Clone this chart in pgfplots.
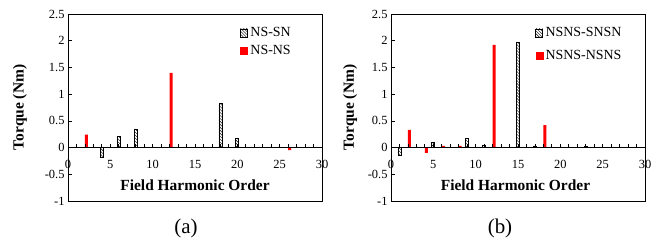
\documentclass[border=0pt]{standalone}
\usepackage{pgfplots}
\pgfplotsset{compat=1.18}
\usepackage{fontspec}
\setmainfont{Liberation Serif}
\usetikzlibrary{patterns}

\pgfplotsset{
  base/.style={scale only axis, width=254bp, height=187bp,
    xmin=0, xmax=30, ymin=-1, ymax=2.5, anchor=south west,
    /pgf/number format/assume math mode=true},
  frame/.style={base, xtick=\empty,
    ytick={-1,-0.5,0,0.5,1,1.5,2,2.5},
    yticklabels={-1,-0.5,0,0.5,1,1.5,2,2.5},
    ytick pos=left, ytick align=inside, major tick length=4bp,
    tick style={black, line width=0.5pt},
    yticklabel style={font=\fontsize{12.5}{13}\selectfont},
    ylabel={\textbf{Torque (Nm)}},
    ylabel style={font=\fontsize{15.5}{16}\selectfont, anchor=center},
    xlabel={\textbf{Field Harmonic Order}},
    xlabel style={font=\fontsize{15.5}{16}\selectfont, anchor=center, at={(axis description cs:0.5,0.086)}},
    axis line style={line width=0.6pt},
    legend style={draw=none, fill=none, font=\fontsize{14}{15}\selectfont, anchor=north west, legend cell align=left},
    ybar, bar width=3bp},
  zero/.style={base, axis x line=middle, axis y line=none,
    x axis line style={-, line width=1.6pt},
    xtick={0,5,...,30}, minor x tick num=4, xtick align=inside,
    major tick length=4bp, minor tick length=4bp,
    tick style={black, line width=0.8pt},
    xticklabel style={font=\fontsize{12.5}{13}\selectfont, yshift=-9bp}},
  blackbar/.style={draw=black, line width=0.7pt, pattern=north west lines, pattern color=black, bar shift=0bp,
    legend image code/.code={\draw[draw=black, line width=0.7pt, pattern=north west lines] (0bp,-4bp) rectangle (7bp,4bp);}},
  redbar/.style={draw=none, fill=red, bar shift=1.5bp,
    legend image code/.code={\fill[red] (0bp,-4bp) rectangle (8bp,4bp);}},
}

\begin{document}
\begin{tikzpicture}
\useasboundingbox (0,0) rectangle (660bp,242bp);
% ---------- (a) ----------
\begin{axis}[frame, at={(68bp,41bp)},
  ylabel style={at={(axis description cs:-0.189,0.5)}},
  legend style={at={(axis description cs:0.665,0.95)}, row sep=3bp}]
\addplot[blackbar] coordinates {(4,-0.18) (6,0.21) (8,0.35) (18,0.83) (20,0.17)};
\addlegendentry{NS-SN}
\addplot[redbar] coordinates {(2,0.24) (12,1.40) (24,0.01) (26,-0.05)};
\addlegendentry{NS-NS}
\end{axis}
\begin{axis}[zero, at={(68bp,41bp)}]
\end{axis}
\node[font=\fontsize{21}{22}\selectfont] at (186bp,14bp) {(a)};
% ---------- (b) ----------
\begin{axis}[frame, at={(391bp,41bp)},
  ylabel style={at={(axis description cs:-0.161,0.5)}},
  xlabel style={at={(axis description cs:0.49,0.086)}},
  legend style={at={(axis description cs:0.555,0.95)}, row sep=8bp}]
\addplot[blackbar] coordinates {(1,-0.14) (5,0.09) (9,0.17) (11,0.05) (15,1.97) (17,0.03) (23,0.02)};
\addlegendentry{NSNS-SNSN}
\addplot[redbar] coordinates {(2,0.33) (4,-0.10) (6,0.03) (8,0.03) (12,1.92) (18,0.42)};
\addlegendentry{NSNS-NSNS}
\end{axis}
\begin{axis}[zero, at={(391bp,41bp)}]
\end{axis}
\node[font=\fontsize{21}{22}\selectfont] at (500bp,14bp) {(b)};
\end{tikzpicture}
\end{document}
